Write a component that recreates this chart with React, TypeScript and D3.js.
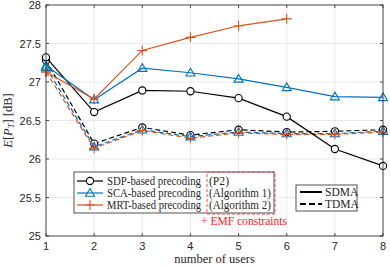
import React from 'react';
import * as d3 from 'd3';

const users = [1, 2, 3, 4, 5, 6, 7, 8];
const yTicks = [25, 25.5, 26, 26.5, 27, 27.5, 28];

// SDMA (solid)
const sdpSdma = [27.32, 26.61, 26.89, 26.88, 26.79, 26.55, 26.13, 25.91];
const scaSdma = [27.21, 26.77, 27.18, 27.12, 27.04, 26.93, 26.81, 26.8];
const mrtSdma = [27.13, 26.78, 27.41, 27.58, 27.73, 27.82];
// TDMA (dashed)
const sdpTdma = [27.28, 26.2, 26.41, 26.31, 26.38, 26.35, 26.36, 26.38];
const scaTdma = [27.19, 26.16, 26.38, 26.29, 26.35, 26.33, 26.33, 26.36];
const mrtTdma = [27.13, 26.14, 26.37, 26.27, 26.34, 26.32, 26.32, 26.35];

const BLUE = '#0072BD';
const ORANGE = '#D95319';

const App = () => {
  const width = 390;
  const height = 268;
  const left = 46;
  const right = 383;
  const top = 5;
  const bottom = 236;

  const x = d3.scaleLinear().domain([1, 8]).range([left, right]);
  const y = d3.scaleLinear().domain([25, 28]).range([bottom, top]);

  const line = d3
    .line<number>()
    .x((_, i) => x(users[i]))
    .y((d) => y(d));

  const marker = (kind: string, cx: number, cy: number, color: string, key: string) => {
    if (kind === 'o') return <circle key={key} cx={cx} cy={cy} r={3.6} fill="white" stroke={color} strokeWidth={1.1} />;
    if (kind === '^')
      return (
        <path
          key={key}
          d={`M${cx},${cy - 4.5}L${cx + 4.5},${cy + 3.2}L${cx - 4.5},${cy + 3.2}Z`}
          fill="none"
          stroke={color}
          strokeWidth={1.1}
        />
      );
    return (
      <path key={key} d={`M${cx - 5},${cy}H${cx + 5}M${cx},${cy - 5}V${cy + 5}`} stroke={color} strokeWidth={1.1} />
    );
  };

  const series = [
    { data: sdpTdma, color: 'black', m: 'o', dash: '5,3' },
    { data: scaTdma, color: BLUE, m: '^', dash: '5,3' },
    { data: mrtTdma, color: ORANGE, m: '+', dash: '5,3' },
    { data: sdpSdma, color: 'black', m: 'o', dash: null },
    { data: scaSdma, color: BLUE, m: '^', dash: null },
    { data: mrtSdma, color: ORANGE, m: '+', dash: null },
  ];

  const serif = "'Liberation Serif', 'Times New Roman', serif";
  const sans = "'Liberation Sans', Arial, sans-serif";

  const legendRows = [
    { label: 'SDP-based precoding', alg: '(P2)', algW: 20, color: 'black', m: 'o' },
    { label: 'SCA-based precoding', alg: '(Algorithm 1)', algW: 62, color: BLUE, m: '^' },
    { label: 'MRT-based precoding', alg: '(Algorithm 2)', algW: 62, color: ORANGE, m: '+' },
  ];

  return (
    <svg width={width} height={height} style={{ position: 'absolute', left: 0, top: 0, background: 'white' }}>
      <rect x={left} y={top} width={right - left} height={bottom - top} fill="white" />
      {/* grid */}
      {users.map((u) => (
        <line key={'gx' + u} x1={x(u)} x2={x(u)} y1={top} y2={bottom} stroke="#e3e3e3" strokeWidth={0.8} />
      ))}
      {yTicks.map((t) => (
        <line key={'gy' + t} x1={left} x2={right} y1={y(t)} y2={y(t)} stroke="#e3e3e3" strokeWidth={0.8} />
      ))}
      {/* series */}
      {series.map((s, si) => (
        <g key={'s' + si}>
          <path d={line(s.data) || ''} fill="none" stroke={s.color} strokeWidth={1.2} strokeDasharray={s.dash || undefined} />
          {s.data.map((v, i) => marker(s.m, x(users[i]), y(v), s.color, `m${si}-${i}`))}
        </g>
      ))}
      {/* axes box */}
      <rect x={left} y={top} width={right - left} height={bottom - top} fill="none" stroke="#262626" strokeWidth={0.8} />
      {users.map((u) => (
        <g key={'tx' + u}>
          <line x1={x(u)} x2={x(u)} y1={bottom} y2={bottom - 3} stroke="#262626" strokeWidth={0.8} />
          <line x1={x(u)} x2={x(u)} y1={top} y2={top + 3} stroke="#262626" strokeWidth={0.8} />
          <text x={x(u)} y={bottom + 14} textAnchor="middle" fontFamily={sans} fontSize={11} fill="#262626">
            {u}
          </text>
        </g>
      ))}
      {yTicks.map((t) => (
        <g key={'ty' + t}>
          <line x1={left} x2={left + 3} y1={y(t)} y2={y(t)} stroke="#262626" strokeWidth={0.8} />
          <line x1={right} x2={right - 3} y1={y(t)} y2={y(t)} stroke="#262626" strokeWidth={0.8} />
          <text x={left - 5} y={y(t) + 4} textAnchor="end" fontFamily={sans} fontSize={11} fill="#262626">
            {t}
          </text>
        </g>
      ))}
      {/* axis labels */}
      <text x={(left + right) / 2} y={263} textAnchor="middle" fontFamily={serif} fontSize={12.5} fill="#262626">
        number of users
      </text>
      <text transform={`translate(12,${(top + bottom) / 2}) rotate(-90)`} textAnchor="middle" fontFamily={serif} fontSize={12.5} fill="#262626">
        <tspan fontStyle="italic">E</tspan>[<tspan fontStyle="italic">P</tspan>
        <tspan fontStyle="italic" fontSize={8.5} dy={2}>T</tspan>
        <tspan dy={-2}>] [dB]</tspan>
      </text>
      {/* legend 1 */}
      <rect x={74} y={172} width={200} height={41} fill="white" stroke="#262626" strokeWidth={0.8} />
      {legendRows.map((r, i) => {
        const ly = 181 + i * 12;
        return (
          <g key={'l' + i}>
            <line x1={77} x2={103} y1={ly} y2={ly} stroke={r.color} strokeWidth={1.2} />
            {marker(r.m, 90, ly, r.color, 'lm' + i)}
            <text x={107} y={ly + 4} fontFamily={serif} fontSize={11.5} fill="#262626" textLength={94} lengthAdjust="spacingAndGlyphs">
              {r.label}
            </text>
            <text x={209} y={ly + 4} fontFamily={serif} fontSize={11.5} fill="#262626" textLength={r.algW} lengthAdjust="spacingAndGlyphs">
              {r.alg}
            </text>
          </g>
        );
      })}
      <rect x={207} y={172} width={68} height={42} fill="none" stroke="#ff3333" strokeWidth={0.9} strokeDasharray="3,2" />
      <text x={201} y={225} fontFamily={serif} fontSize={11.5} fill="#ff2222" textLength={86} lengthAdjust="spacingAndGlyphs">
        + EMF constraints
      </text>
      {/* legend 2 */}
      <rect x={296} y={185} width={61} height={26} fill="white" stroke="#262626" strokeWidth={0.8} />
      <line x1={300} x2={322} y1={192} y2={192} stroke="black" strokeWidth={2} />
      <line x1={300} x2={322} y1={204} y2={204} stroke="black" strokeWidth={2} strokeDasharray="6,3" />
      <text x={325} y={196} fontFamily={serif} fontSize={11.5} fill="#262626">
        SDMA
      </text>
      <text x={325} y={208} fontFamily={serif} fontSize={11.5} fill="#262626">
        TDMA
      </text>
    </svg>
  );
};

export default App;
